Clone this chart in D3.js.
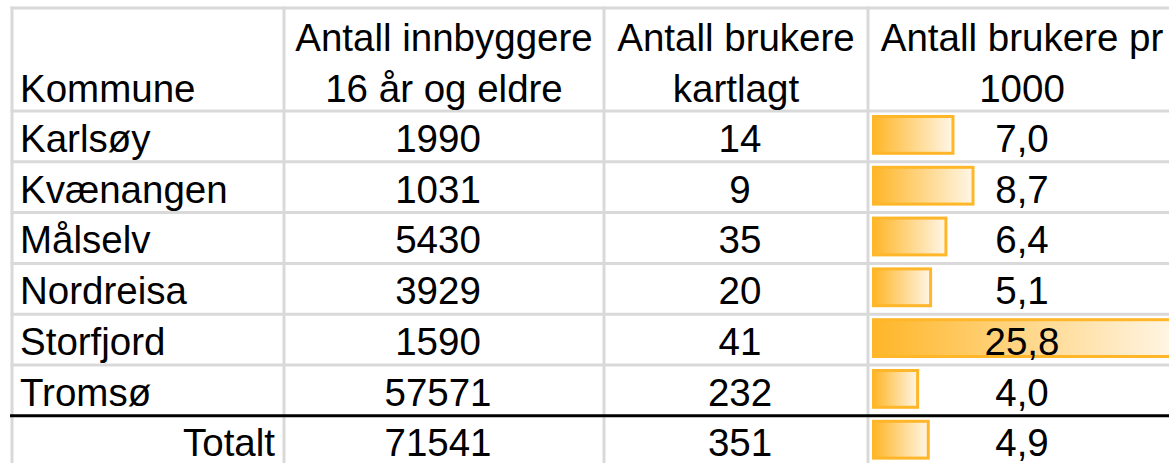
<!DOCTYPE html>
<html>
<head>
<meta charset="utf-8">
<script src="https://cdn.jsdelivr.net/npm/d3@7"></script>
<style>
  body { margin: 0; background: #fff; }
  svg text { font-family: "Liberation Sans", Arial, sans-serif; fill: #000; }
</style>
</head>
<body>
<div id="svg-container"></div>
<script>
// Table data
const headers = [
  ["Kommune"],
  ["Antall innbyggere", "16 år og eldre"],
  ["Antall brukere", "kartlagt"],
  ["Antall brukere pr", "1000"]
];
const kommuner = ["Karlsøy", "Kvænangen", "Målselv", "Nordreisa", "Storfjord", "Tromsø"];
const innbyggere = [1990, 1031, 5430, 3929, 1590, 57571];
const brukere = [14, 9, 35, 20, 41, 232];
const perTusen = [7.0, 8.7, 6.4, 5.1, 25.8, 4.0];
const totalLabel = "Totalt";
const totalInnbyggere = 71541;
const totalBrukere = 351;
const totalPerTusen = 4.9;

const width = 1169;
const height = 463;

// Column edges
const colEdges = [12, 284, 604, 868, 1176];
const headerTop = 8;
const headerBottom = 111;
const rowH = 50.8;

const rows = kommuner.map((k, i) => ({
  name: k, inn: innbyggere[i], bru: brukere[i], per: perTusen[i], total: false
}));
rows.push({ name: totalLabel, inn: totalInnbyggere, bru: totalBrukere, per: totalPerTusen, total: true });

const yScale = d3.scaleBand()
  .domain(d3.range(rows.length))
  .range([headerBottom, headerBottom + rowH * rows.length]);

const barScale = d3.scaleLinear()
  .domain([0, d3.max(perTusen)])
  .range([0, 304]);

const no = d3.formatLocale({ decimal: ",", thousands: " ", grouping: [3], currency: ["", " kr"] });
const fmt1 = no.format(".1f");

const svg = d3.select("#svg-container")
  .append("svg")
    .attr("width", width)
    .attr("height", height);

const defs = svg.append("defs");
const grad = defs.append("linearGradient").attr("id", "barGrad");
grad.append("stop").attr("offset", "0%").attr("stop-color", "#ffb628");
grad.append("stop").attr("offset", "100%").attr("stop-color", "#fff6e6");

const fontSize = 38.5;
const colCenter = i => (colEdges[i] + colEdges[i + 1]) / 2;

// Data bars
svg.selectAll("rect.bar")
  .data(rows)
  .enter()
  .append("rect")
    .attr("class", "bar")
    .attr("x", colEdges[3] + 5.5)
    .attr("y", (d, i) => yScale(i) + 5.5)
    .attr("width", d => barScale(d.per) - 3)
    .attr("height", yScale.bandwidth() - 14)
    .attr("fill", "url(#barGrad)")
    .attr("stroke", "#ffb628")
    .attr("stroke-width", 3);

// Grid lines
const grid = svg.append("g").attr("stroke", "#d9d9d9").attr("stroke-width", 3);
const hLines = [headerTop, headerBottom].concat(d3.range(1, rows.length - 1).map(i => yScale(i)));
grid.selectAll("line.h")
  .data(hLines)
  .enter()
  .append("line")
    .attr("x1", colEdges[0] - 1.5)
    .attr("x2", width)
    .attr("y1", d => d)
    .attr("y2", d => d);
grid.selectAll("line.v")
  .data(colEdges.slice(0, 4))
  .enter()
  .append("line")
    .attr("x1", d => d)
    .attr("x2", d => d)
    .attr("y1", headerTop - 1.5)
    .attr("y2", height);

// Black line above total row
svg.append("line")
  .attr("x1", colEdges[0] - 2)
  .attr("x2", width)
  .attr("y1", yScale(rows.length - 1))
  .attr("y2", yScale(rows.length - 1))
  .attr("stroke", "#000")
  .attr("stroke-width", 3);

// Headers
headers.forEach((lines, c) => {
  lines.forEach((t, j) => {
    const baseline = headerBottom - 9 - (lines.length - 1 - j) * rowH;
    svg.append("text")
      .attr("x", c === 0 ? colEdges[0] + 8 : colCenter(c))
      .attr("y", baseline)
      .attr("text-anchor", c === 0 ? "start" : "middle")
      .style("font-size", fontSize + "px")
      .text(t);
  });
});

// Body rows
const rowG = svg.selectAll("g.row")
  .data(rows)
  .enter()
  .append("g")
    .attr("class", "row")
    .attr("transform", (d, i) => `translate(0, ${yScale(i) + yScale.bandwidth() - (d.total ? 11 : 10)})`);

rowG.append("text")
  .attr("x", d => d.total ? colEdges[1] - 9 : colEdges[0] + 8)
  .attr("text-anchor", d => d.total ? "end" : "start")
  .style("font-size", fontSize + "px")
  .text(d => d.name);

rowG.append("text")
  .attr("x", colCenter(1) - 6)
  .attr("text-anchor", "middle")
  .style("font-size", fontSize + "px")
  .text(d => d.inn);

rowG.append("text")
  .attr("x", colCenter(2) + 4)
  .attr("text-anchor", "middle")
  .style("font-size", fontSize + "px")
  .text(d => d.bru);

rowG.append("text")
  .attr("x", colCenter(3))
  .attr("text-anchor", "middle")
  .style("font-size", fontSize + "px")
  .text(d => fmt1(d.per));
</script>
</body>
</html>
